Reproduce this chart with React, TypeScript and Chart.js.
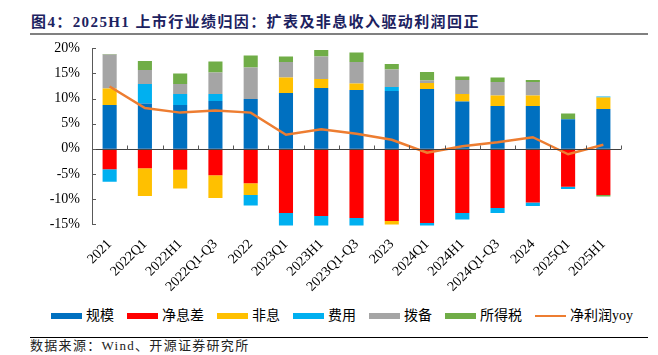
import React, { useEffect, useRef } from "react";
import { Chart, registerables } from "chart.js";

Chart.register(...registerables);

const categories = ["2021", "2022Q1", "2022H1", "2022Q1-Q3", "2022", "2023Q1", "2023H1", "2023Q1-Q3", "2023", "2024Q1", "2024H1", "2024Q1-Q3", "2024", "2025Q1", "2025H1"];
const scaleVals = [8.7, 9.0, 8.7, 9.5, 9.9, 11.1, 12.1, 11.7, 11.5, 11.9, 9.4, 8.5, 8.5, 5.9, 7.9];
const nimVals = [-4.1, -3.9, -4.2, -5.3, -6.9, -12.8, -13.4, -13.8, -14.4, -14.8, -12.8, -11.8, -10.7, -7.6, -9.2];
const nonInterestVals = [3.3, -5.5, -3.7, -4.5, -2.3, 3.1, 1.8, 1.3, -0.7, 1.2, 1.5, 2.1, 2.1, 0, 2.3];
const expenseVals = [-2.5, 3.9, 2.2, 1.4, -2.1, -2.5, -1.9, -1.5, 0.8, -0.5, -1.3, -1.0, -0.7, -0.4, 0.2];
const provisionVals = [6.8, 2.8, 2.0, 4.3, 6.3, 3.1, 4.5, 4.3, 3.5, 0.5, 2.8, 2.7, 2.7, 0, 0];
const taxVals = [0.1, 1.8, 2.1, 2.2, 2.4, 1.1, 1.3, 1.9, 1.1, 1.7, 0.7, 0.9, 0.4, 1.1, -0.3];
const yoyVals = [12.4, 8.1, 7.2, 7.6, 7.2, 2.8, 3.9, 3.0, 1.8, -0.8, 0.5, 1.3, 2.3, -1.1, 0.8];
const yTicks = [-15, -10, -5, 0, 5, 10, 15, 20];

const barSeries = [
  { label: "规模", data: scaleVals, color: "#0070C0" },
  { label: "净息差", data: nimVals, color: "#FF0000" },
  { label: "非息", data: nonInterestVals, color: "#FFC000" },
  { label: "费用", data: expenseVals, color: "#00B0F0" },
  { label: "拨备", data: provisionVals, color: "#A5A5A5" },
  { label: "所得税", data: taxVals, color: "#70AD47" },
];
const lineSeries = { label: "净利润yoy", data: yoyVals, color: "#ED7D31" };

const axisTicksPlugin = {
  id: "axisTicks",
  afterDatasetsDraw(chart: any) {
    const { ctx, scales } = chart;
    const x = scales.x;
    const y = scales.y;
    const y0 = Math.round(y.getPixelForValue(0)) + 0.5;
    ctx.save();
    ctx.strokeStyle = "#404040";
    ctx.lineWidth = 1.2;
    ctx.beginPath();
    ctx.moveTo(chart.chartArea.left, y0);
    ctx.lineTo(chart.chartArea.right, y0);
    ctx.stroke();
    ctx.lineWidth = 1;
    ctx.strokeStyle = "#595959";
    const n = categories.length;
    const half = (x.getPixelForValue(1) - x.getPixelForValue(0)) / 2;
    for (let i = 0; i <= n; i++) {
      const px = Math.round(x.getPixelForValue(i) - half) + 0.5;
      ctx.beginPath();
      ctx.moveTo(px, y0 - 4);
      ctx.lineTo(px, y0);
      ctx.stroke();
    }
    const left = chart.chartArea.left;
    yTicks.forEach((v) => {
      const py = Math.round(y.getPixelForValue(v)) + 0.5;
      ctx.beginPath();
      ctx.moveTo(left, py);
      ctx.lineTo(left + 4, py);
      ctx.stroke();
    });
    ctx.restore();
  },
};

function ChartCanvas() {
  const ref = useRef<HTMLCanvasElement>(null);
  useEffect(() => {
    if (!ref.current) return;
    const datasets: any[] = barSeries.map((s) => ({
      type: "bar",
      label: s.label,
      data: s.data,
      backgroundColor: s.color,
      borderWidth: 0,
      barPercentage: 0.4,
      categoryPercentage: 1,
      order: 2,
      clip: 3,
    }));
    datasets.push({
      type: "line",
      label: lineSeries.label,
      data: lineSeries.data,
      borderColor: lineSeries.color,
      backgroundColor: lineSeries.color,
      borderWidth: 2.5,
      pointRadius: 0,
      tension: 0,
      stack: "line",
      order: 1,
    });
    const chart = new Chart(ref.current, {
      type: "bar",
      data: { labels: categories, datasets },
      options: {
        animation: false,
        responsive: false,
        maintainAspectRatio: false,
        layout: { padding: { top: 8, right: 37, left: 0, bottom: 0 } },
        plugins: { legend: { display: false }, tooltip: { enabled: false } },
        scales: {
          x: {
            stacked: true,
            grid: { display: false, drawTicks: false },
            border: { display: false },
            ticks: {
              autoSkip: false,
              minRotation: 45,
              maxRotation: 45,
              padding: 12,
              color: "#000",
              font: { family: "'Liberation Serif', serif", size: 14 },
            },
            afterFit: (s: any) => {
              s.height = 82;
            },
          },
          y: {
            stacked: true,
            min: -15,
            max: 20,
            afterBuildTicks: (s: any) => {
              s.ticks = yTicks.map((v) => ({ value: v }));
            },
            grid: { display: false, drawTicks: false },
            border: { display: true, color: "#595959", width: 1 },
            ticks: {
              padding: 12,
              color: "#000",
              font: { family: "'Liberation Serif', serif", size: 14 },
              callback: (v: any) => `${v}%`,
            },
            afterFit: (s: any) => {
              s.width = 92;
            },
          },
        },
      },
      plugins: [axisTicksPlugin],
    } as any);
    return () => chart.destroy();
  }, []);
  return <canvas ref={ref} width={658} height={278} style={{ width: 658, height: 278, display: "block" }} />;
}

export default function App() {
  const cjk = "'Noto Sans CJK SC', sans-serif";
  return (
    <div style={{ position: "absolute", left: 0, top: 0, width: 658, height: 355, background: "#fff", overflow: "hidden" }}>
      <div
        style={{
          position: "absolute",
          left: 31,
          top: 12,
          lineHeight: "20px",
          fontSize: 15,
          fontWeight: "bold",
          letterSpacing: "1.4px",
          color: "#1c2260",
          fontFamily: `'Liberation Serif', ${cjk}`,
          whiteSpace: "nowrap",
        }}
      >
        图4：2025H1 上市行业绩归因：扩表及非息收入驱动利润回正
      </div>
      <div style={{ position: "absolute", left: 30, top: 33, width: 618, height: 2, background: "#808080" }} />
      <div style={{ position: "absolute", left: 0, top: 28 }}>
        <ChartCanvas />
      </div>
      <div
        style={{
          position: "absolute",
          left: 51,
          top: 307,
          display: "flex",
          alignItems: "center",
          fontFamily: `'Liberation Serif', ${cjk}`,
          fontSize: 14,
          lineHeight: "18px",
          color: "#000",
          whiteSpace: "nowrap",
        }}
      >
        {barSeries.map((s) => (
          <div key={s.label} style={{ display: "flex", alignItems: "center", marginRight: 13 }}>
            <span style={{ display: "inline-block", width: 31, height: 6, background: s.color, marginRight: 4 }} />
            <span>{s.label}</span>
          </div>
        ))}
        <div style={{ display: "flex", alignItems: "center" }}>
          <span style={{ display: "inline-block", width: 31, height: 2.5, background: lineSeries.color, marginRight: 4 }} />
          <span>{lineSeries.label}</span>
        </div>
      </div>
      <div style={{ position: "absolute", left: 30, top: 337, width: 618, height: 1, background: "#000" }} />
      <div
        style={{
          position: "absolute",
          left: 30,
          top: 338,
          lineHeight: "16px",
          fontSize: 13,
          letterSpacing: "1.3px",
          color: "#222",
          fontFamily: `'Liberation Serif', ${cjk}`,
          whiteSpace: "nowrap",
        }}
      >
        数据来源：Wind、开源证券研究所
      </div>
    </div>
  );
}
